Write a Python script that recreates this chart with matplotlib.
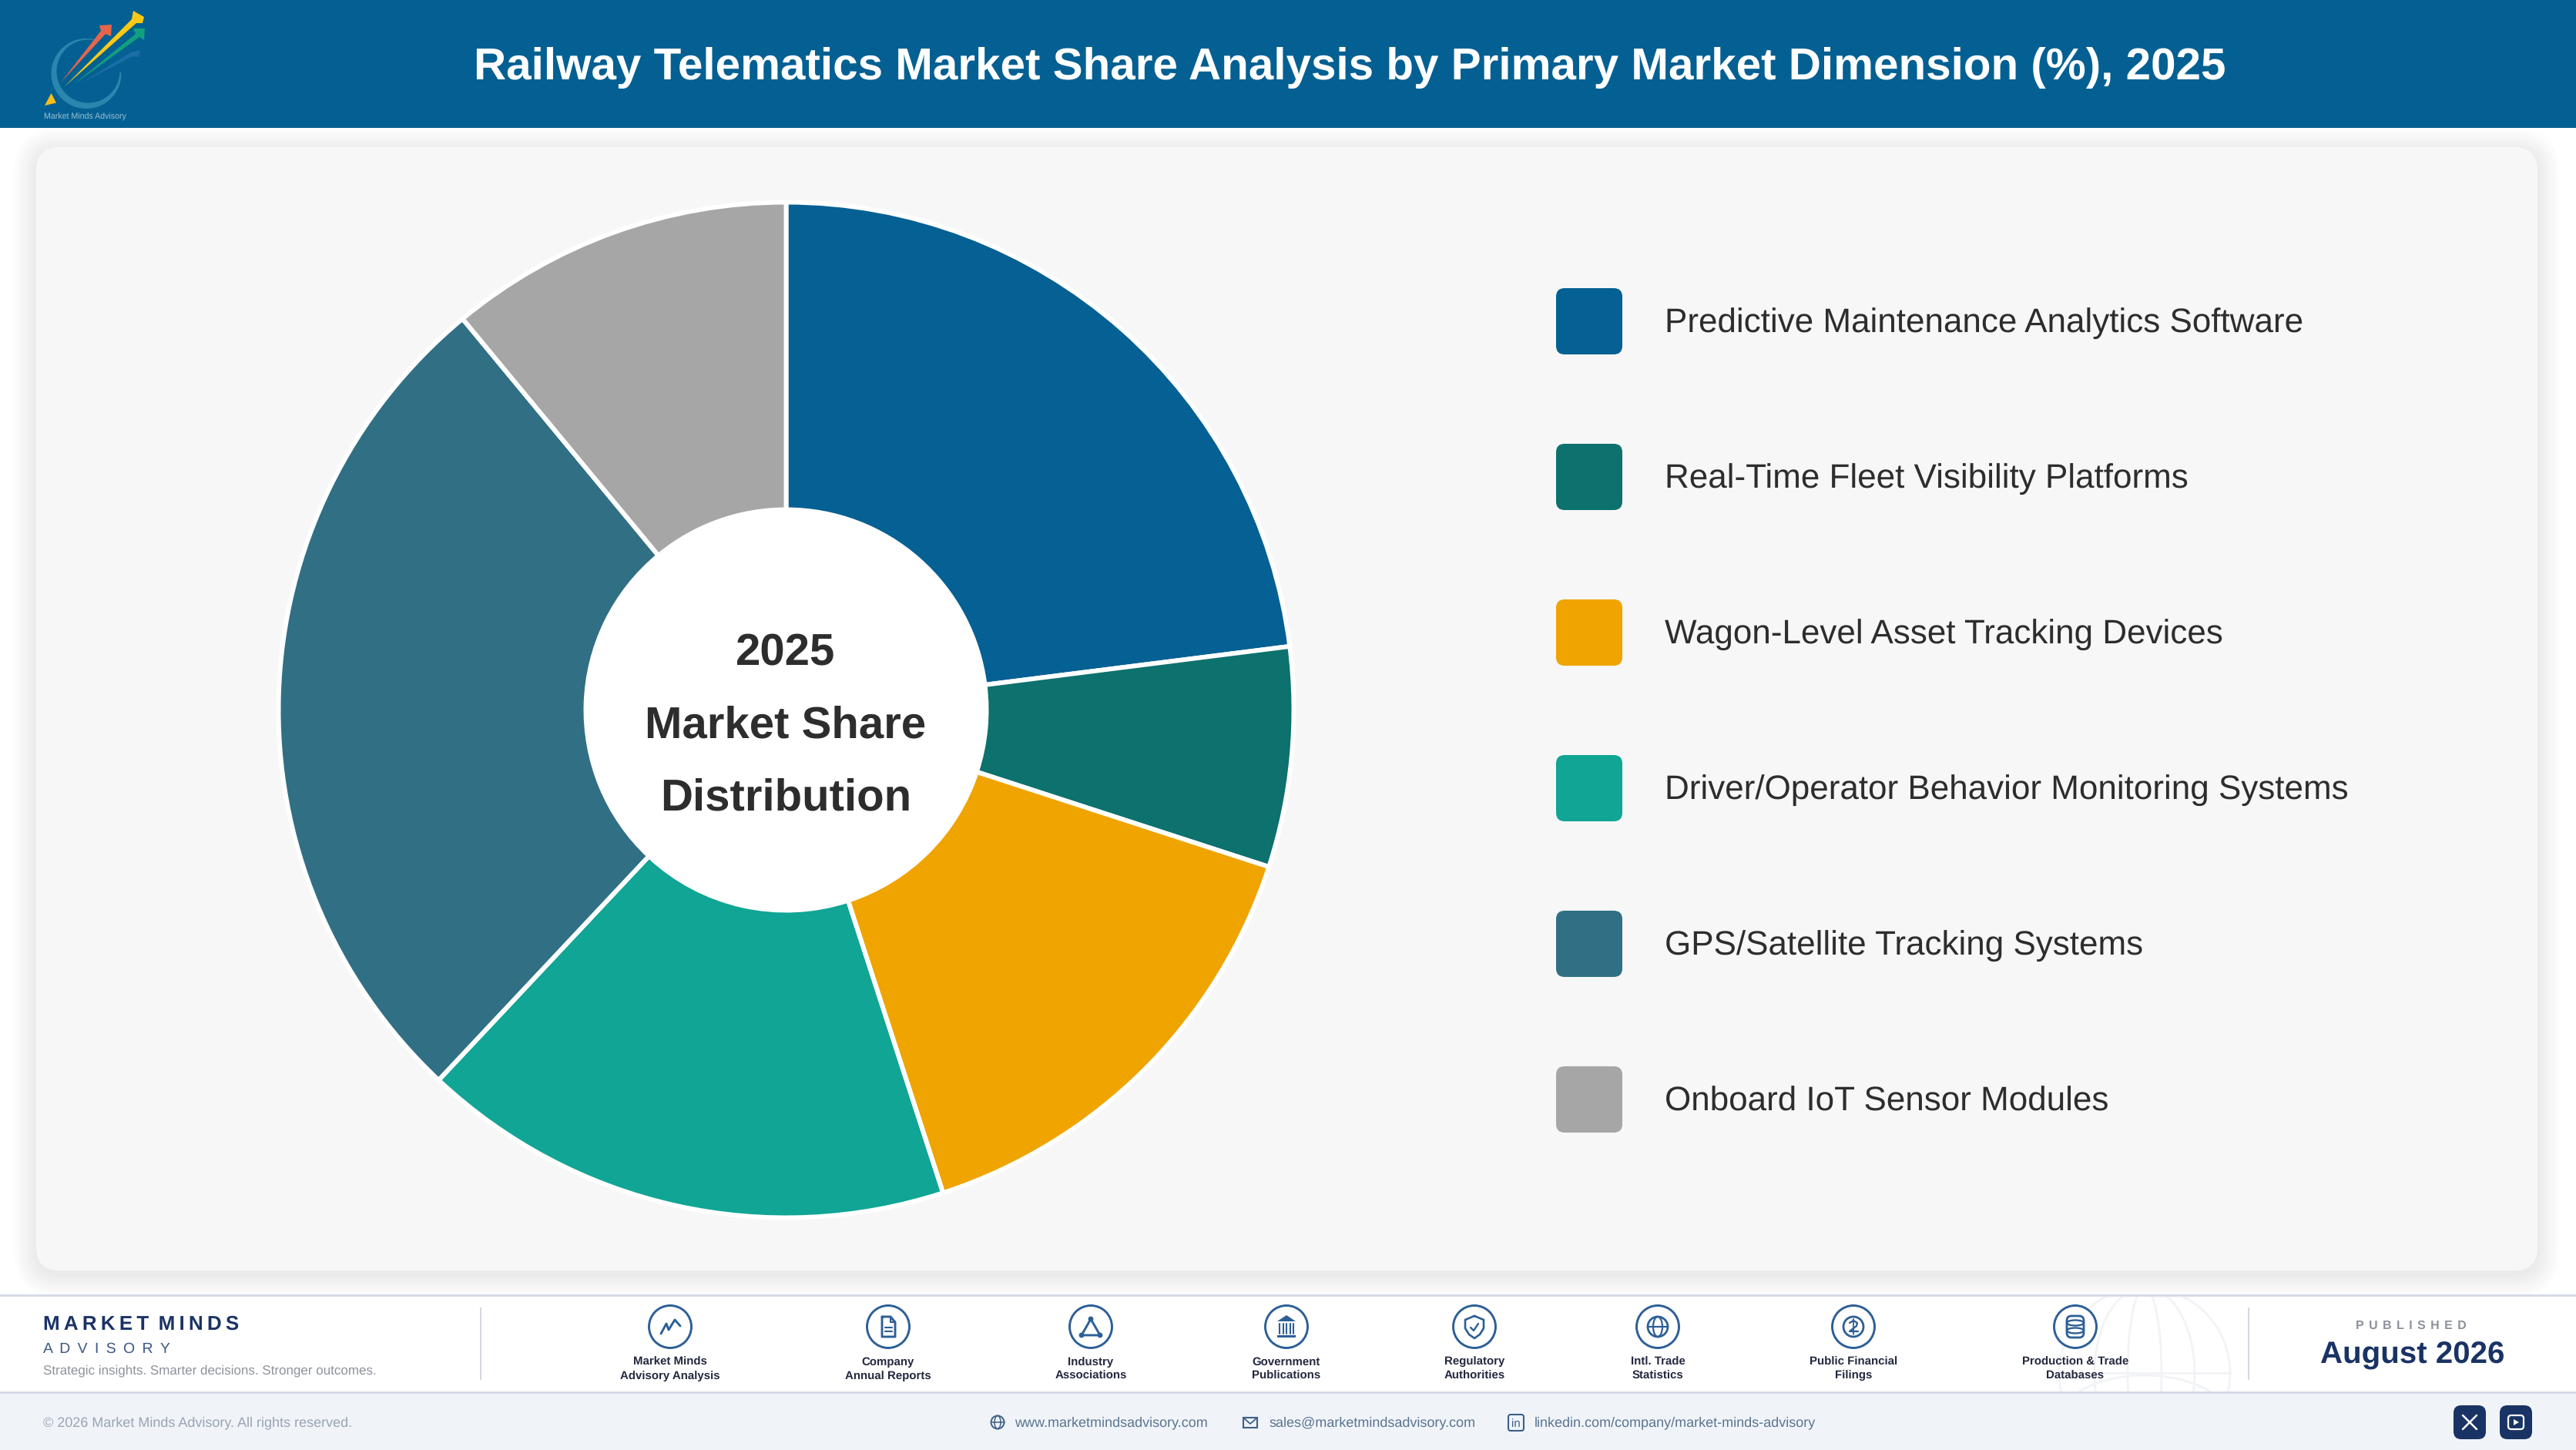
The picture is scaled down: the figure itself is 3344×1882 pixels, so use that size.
import numpy as np
import matplotlib
matplotlib.use("Agg")
import matplotlib.pyplot as plt
from matplotlib.patches import FancyBboxPatch, Rectangle, Circle, Polygon, Ellipse, Arc
from matplotlib.textpath import TextPath
from matplotlib.font_manager import FontProperties

plt.rcParams["text.hinting"] = "no_hinting"

# ---- data ----
title = "Railway Telematics Market Share Analysis by Primary Market Dimension (%), 2025"
categories = ["Predictive Maintenance Analytics Software", "Real-Time Fleet Visibility Platforms",
              "Wagon-Level Asset Tracking Devices", "Driver/Operator Behavior Monitoring Systems",
              "GPS/Satellite Tracking Systems", "Onboard IoT Sensor Modules"]
shares = [23, 7, 15, 17, 27, 11]
colors = ["#056094", "#0d716d", "#f0a400", "#10a594", "#316f85", "#a6a6a6"]
center_lines = ["2025", "Market Share", "Distribution"]
source_labels = [("Market Minds", "Advisory Analysis"), ("Company", "Annual Reports"), ("Industry", "Associations"),
                 ("Government", "Publications"), ("Regulatory", "Authorities"), ("Intl. Trade", "Statistics"),
                 ("Public Financial", "Filings"), ("Production & Trade", "Databases")]
source_x = [870, 1153, 1416, 1670, 1914, 2152, 2406, 2694]

W, H = 3344, 1882
FONT = "Liberation Sans"
fig = plt.figure(figsize=(W / 100, H / 100), dpi=100, facecolor="white")
bg = fig.add_axes([0, 0, 1, 1], zorder=0)
bg.set_xlim(0, W); bg.set_ylim(H, 0); bg.axis("off")


def px_for_width(s, width, weight="normal"):
    fp = FontProperties(family=FONT, weight=weight)
    return 100 * width / TextPath((0, 0), s, size=100, prop=fp).get_extents().width


def T(x, y, s, px, color, weight="normal", ha="left", ax=None, **kw):
    a = ax or bg
    return a.text(x, y, s, fontsize=px * 0.72, color=color, family=FONT, weight=weight, ha=ha, va="baseline",
                  transform=bg.transData, **kw)


def rrect(x0, y0, x1, y1, r, **kw):
    p = FancyBboxPatch((x0 + r, y0 + r), x1 - x0 - 2 * r, y1 - y0 - 2 * r,
                       boxstyle=f"round,pad={r},rounding_size={r}", mutation_aspect=1, **kw)
    bg.add_patch(p)
    return p


def L(pts, color, lw=2.0, **kw):
    pts = np.array(pts, float)
    bg.plot(pts[:, 0], pts[:, 1], color=color, lw=lw, solid_capstyle="round", solid_joinstyle="round", **kw)


# ---- card with soft shadow (drawn first so the header and footer rules sit over it) ----
for i in range(20):
    e = 30 - i * 1.5
    rrect(47 - e, 191 - e + 5, 3294 + e, 1649 + e + 5, 30 + e, fc="#5a6478", ec="none", alpha=0.0055)
rrect(47, 191, 3294, 1649, 30, fc="#f7f7f7", ec="none")

# ---- header ----
bg.add_patch(Rectangle((0, 0), W, 166, fc="#046092", ec="none"))
T(1752, 103, title, px_for_width(title, 2271, "bold"), "white", "bold", ha="center")

# logo
oc, ic = np.array([112, 95.5]), np.array([114.5, 92.5])
ang = np.radians(np.linspace(-78, -360, 90))
outer = np.c_[oc[0] + 45.5 * np.cos(ang), oc[1] + 45.5 * np.sin(ang)]
inner = np.c_[ic[0] + 41 * np.cos(ang[::-1]), ic[1] + 41 * np.sin(ang[::-1])]
bg.add_patch(Polygon(np.r_[outer, inner], fc="#2b86ad", ec="none"))
bg.add_patch(Polygon([(58, 137), (66.5, 121), (73, 133.5)], fc="#fbbd18", ec="none"))
bg.add_patch(Polygon([(105, 108), (170, 68), (182, 65), (180, 74), (172, 73)], fc="#1a6ea6", ec="none"))
bg.add_patch(Polygon([(95, 110), (176, 44), (173, 37), (188, 37), (187, 52), (181, 48)], fc="#11a07f", ec="none"))
bg.add_patch(Polygon([(79, 107), (131, 40), (129, 33), (145, 32), (144, 47), (137, 44)], fc="#e7654b", ec="none"))
bg.add_patch(Polygon([(83, 113), (171, 25), (173, 14), (187, 22), (185, 30), (177, 30)], fc="#fbc913", ec="none"))
T(110.5, 155, "Market Minds Advisory", px_for_width("Market Minds Advisory", 106), "#9cc0d4", ha="center")

# ---- donut ----
cx, cy, R, hole, halfspan = 1020.5, 921.5, 659, 260, 690
pa = fig.add_axes([(cx - halfspan) / W, 1 - (cy + halfspan) / H, 2 * halfspan / W, 2 * halfspan / H], zorder=1)
pa.add_patch(Circle((0, 0), hole / R, fc="white", ec="none", zorder=0))
pa.pie(shares, colors=colors, startangle=90, counterclock=False, radius=1,
       wedgeprops=dict(width=1 - hole / R, edgecolor="white", linewidth=4.3))
pa.set_xlim(-halfspan / R, halfspan / R); pa.set_ylim(-halfspan / R, halfspan / R)
pa.set_aspect("equal"); pa.axis("off")
cpx = px_for_width(center_lines[1], 359, "bold")
for s, by in zip(center_lines, [863, 957, 1051]):
    T(1020, by, s, cpx, "#2d2d2d", "bold", ha="center", ax=pa)

# ---- legend ----
lpx = px_for_width(categories[0], 823)
for i, (c, col) in enumerate(zip(categories, colors)):
    y0 = 374 + i * 202
    rrect(2020, y0, 2106, y0 + 86, 11, fc=col, ec="none")
    T(2161, y0 + 57.5, c, lpx, "#2d2d2d")

# ---- footer ----
bg.add_patch(Rectangle((0, 1682), W, 125, fc="white", ec="none"))
bg.add_patch(Rectangle((0, 1807), W, 75, fc="#f0f4f9", ec="none"))

# watermark globe (clipped to the white strip)
clip = Rectangle((0, 1682), W, 124, transform=bg.transData)
gcol = "#f1f3f6"
for art in [Circle((2784, 1782), 111, fc="none", ec=gcol, lw=2),
            Ellipse((2784, 1782), 130, 222, fc="none", ec=gcol, lw=2),
            Ellipse((2784, 1782), 44, 222, fc="none", ec=gcol, lw=2),
            Arc((2784, 1850), 230, 130, theta1=180, theta2=360, ec=gcol, lw=2)]:
    bg.add_patch(art); art.set_clip_path(clip)
hl = bg.plot([2673, 2895], [1782, 1782], color=gcol, lw=2)[0]; hl.set_clip_path(clip)

for yy in (1680.7, 1806.7):
    bg.plot([0, W], [yy, yy], color="#d5d8e6", lw=2.0)
for xx in (624, 2919):
    bg.plot([xx, xx], [1698, 1790], color="#d2d6df", lw=1.4)

navy = "#1a3365"
TH = "\u2009"
T(56, 1726, TH.join("MARKET") + " " + TH + TH.join("MINDS"), 26, navy, "bold")
T(56, 1756, (" " + TH).join("ADVISORY"), 19.5, "#3d5a85")
s = "Strategic insights. Smarter decisions. Stronger outcomes."
T(56, 1783, s, px_for_width(s, 431), "#8d929b")

lab_px = px_for_width("Advisory Analysis", 129, "bold")
for x, (a, b) in zip(source_x, source_labels):
    T(x, 1771.7, a, lab_px, "#23283f", "bold", ha="center")
    T(x, 1789.7, b, lab_px, "#23283f", "bold", ha="center")
    bg.add_patch(Circle((x, 1722), 27.5, fc="white", ec="#2d5f96", lw=2.1))

ic_c = "#2d5f96"
def off(x, pts, y=1722):
    return [(x + p, y + q) for p, q in pts]

x = source_x[0]
L(off(x, [(-12, 9), (-5, -4), (-2, 4), (6, -9), (13, -1)]), ic_c, 2.1)
x = source_x[1]
L(off(x, [(-8, -13), (3, -13), (9, -6), (9, 13), (-8, 13), (-8, -13)]), ic_c, 2.1)
L(off(x, [(3, -13), (3, -6), (9, -6)]), ic_c, 1.6)
L(off(x, [(-4, 1), (5, 1)]), ic_c, 1.5); L(off(x, [(-4, 6), (5, 6)]), ic_c, 1.5)
x = source_x[2]
L(off(x, [(0, -10), (-12, 11), (12, 11), (0, -10)]), ic_c, 2.1)
for p, q in [(0, -10), (-12, 11), (12, 11)]:
    bg.add_patch(Circle((x + p, 1722 + q), 3.4, fc=ic_c, ec="none"))
x = source_x[3]
bg.add_patch(Polygon(off(x, [(-12, -7), (0, -15), (12, -7)]), fc=ic_c, ec="none"))
for d in (-9, -4.5, 0, 4.5, 9):
    L(off(x, [(d, -4), (d, 9)]), ic_c, 1.5)
bg.add_patch(Rectangle((x - 12, 1733), 24, 3.4, fc=ic_c, ec="none"))
x = source_x[4]
L(off(x, [(0, -14), (12, -9), (12, 2), (7, 10), (0, 15), (-7, 10), (-12, 2), (-12, -9), (0, -14)]), ic_c, 1.9)
L(off(x, [(-5, 1), (-1, 5), (5, -4)]), ic_c, 1.7)
x = source_x[5]
bg.add_patch(Circle((x, 1722), 13, fc="none", ec=ic_c, lw=2))
bg.add_patch(Ellipse((x, 1722), 12, 26, fc="none", ec=ic_c, lw=1.6))
L(off(x, [(-13, 0), (13, 0)]), ic_c, 1.6)
x = source_x[6]
bg.add_patch(Circle((x, 1722), 13, fc="none", ec=ic_c, lw=2))
L(off(x, [(-5, -5), (0, -8), (5, -5), (4, -1), (-5, 6), (6, 6)]), ic_c, 1.7)
L(off(x, [(0, -10), (0, 10)]), ic_c, 1.3)
x = source_x[7]
bg.add_patch(FancyBboxPatch((x - 8, 1722 - 11), 16, 22, boxstyle="round,pad=3,rounding_size=6",
                            fc="none", ec=ic_c, lw=2))
for q in (-5, 5):
    bg.add_patch(Ellipse((x, 1722 + q), 22, 7, fc="none", ec=ic_c, lw=1.7))

s = "PUBLISHED"
T(3130, 1725, (TH + TH).join(s), 16, "#8d929b", "bold", ha="center")
s = "August 2026"
T(3132, 1770, s, px_for_width(s, 237, "bold"), navy, "bold", ha="center")

# bottom band
s = "\u00a9 2026 Market Minds Advisory. All rights reserved."
T(56, 1851, s, px_for_width(s, 400), "#9aa3b2")
link = "#5a7390"
links = [(1317, 250, "www.marketmindsadvisory.com"), (1647, 267, "sales@marketmindsadvisory.com"),
         (1992, 365, "linkedin.com/company/market-minds-advisory")]
for lx, lw_, s in links:
    T(lx, 1851, s, px_for_width(s, lw_), link)
ci = "#3f5f87"
bg.add_patch(Circle((1295, 1846), 8.5, fc="none", ec=ci, lw=1.4))
bg.add_patch(Ellipse((1295, 1846), 8, 17, fc="none", ec=ci, lw=1.1))
L([(1286.5, 1846), (1303.5, 1846)], ci, 1.1)
bg.add_patch(Rectangle((1614, 1840), 18, 13, fc="none", ec=ci, lw=1.5))
L([(1614, 1840), (1623, 1848), (1632, 1840)], ci, 1.3)
rrect(1958, 1836, 1978, 1857, 3, fc="none", ec=ci, lw=1.5)
T(1968, 1852, "in", 15, ci, ha="center")

rrect(3185, 1824, 3227, 1868, 10, fc=navy, ec="none")
L([(3197, 1837), (3215, 1855)], "white", 1.8); L([(3215, 1837), (3197, 1855)], "white", 1.8)
rrect(3245, 1824, 3287, 1868, 10, fc=navy, ec="none")
rrect(3256, 1837, 3276, 1855, 4, fc="none", ec="white", lw=1.6)
bg.add_patch(Polygon([(3263, 1842), (3263, 1850), (3270, 1846)], fc="white", ec="none"))

fig.savefig("out.png", dpi=100, facecolor="white")
